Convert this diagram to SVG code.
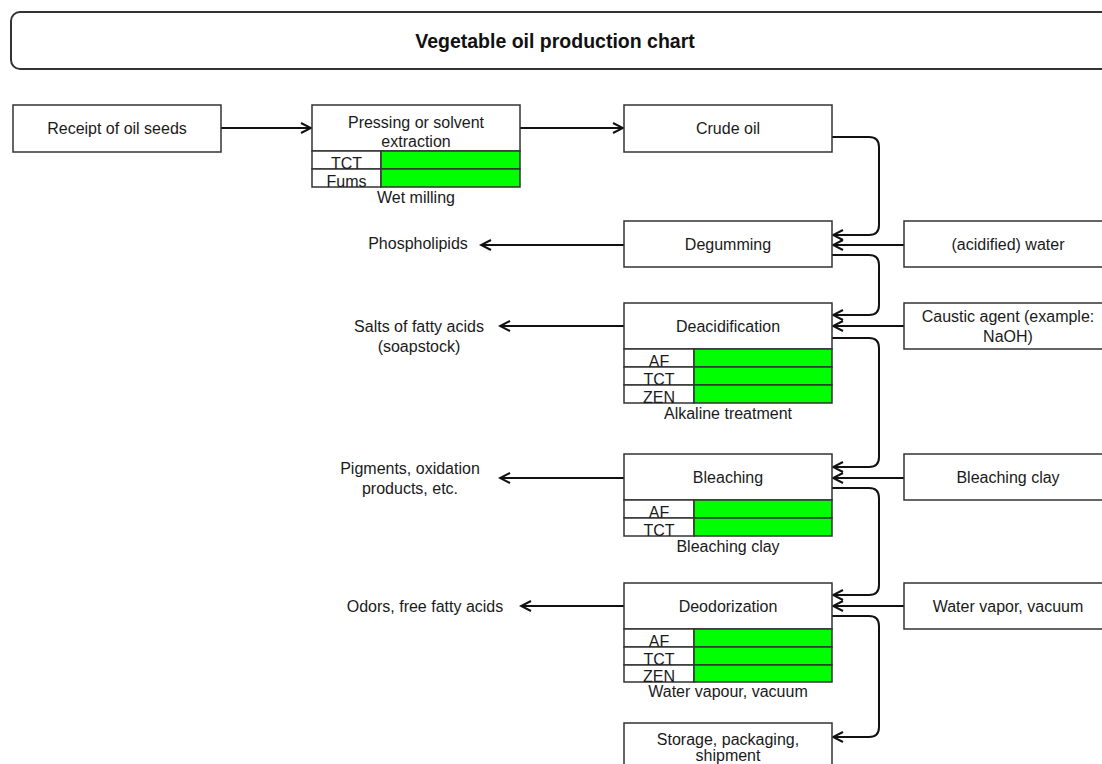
<svg xmlns="http://www.w3.org/2000/svg" width="1102" height="764" viewBox="0 0 1102 764">
  <defs>
    <marker id="arr" markerUnits="userSpaceOnUse" markerWidth="14" markerHeight="14" viewBox="0 0 14 14" refX="12" refY="7" orient="auto">
      <path d="M2,2 L12,7 L2,12" fill="none" stroke="#111" stroke-width="2" stroke-linejoin="miter"/>
    </marker>
    <style>
      .box { fill: #fff; stroke: #333; stroke-width: 1.5; }
      .green { fill: #00ff00; stroke: #333; stroke-width: 1.5; }
      .cell { fill: #fff; stroke: #333; stroke-width: 1.5; }
      .title { fill: #fff; stroke: #333; stroke-width: 2; }
      .t { font-family: "Liberation Sans", Arial, sans-serif; font-size: 16px; fill: #1a1a1a; text-anchor: middle; }
      .tb { font-family: "Liberation Sans", Arial, sans-serif; font-size: 19.5px; font-weight: bold; fill: #111; text-anchor: middle; }
      .edge { fill: none; stroke: #111; stroke-width: 2; marker-end: url(#arr); }
    </style>
  </defs>

  <!-- heading -->
  <g id="title">
    <rect class="title" x="11" y="12" width="1110" height="57" rx="9" ry="9"/>
    <text class="tb" x="555" y="48">Vegetable oil production chart</text>
  </g>

  <!-- process connectors -->
  <g id="connectors">
    <path class="edge" d="M221,128 H311"/>
    <path class="edge" d="M520,128 H623"/>
    <path class="edge" d="M832,137 H869 Q879,137 879,147 V225 Q879,235 869,235 H833"/>
    <path class="edge" d="M904,245 H833"/>
    <path class="edge" d="M624,245 H481"/>
    <path class="edge" d="M832,255 H869 Q879,255 879,265 V305 Q879,315 869,315 H833"/>
    <path class="edge" d="M904,326 H833"/>
    <path class="edge" d="M624,326 H500"/>
    <path class="edge" d="M832,338 H869 Q879,338 879,348 V457 Q879,467 869,467 H833"/>
    <path class="edge" d="M904,478 H833"/>
    <path class="edge" d="M624,478 H500"/>
    <path class="edge" d="M832,488 H869 Q879,488 879,498 V585 Q879,595 869,595 H833"/>
    <path class="edge" d="M904,606 H833"/>
    <path class="edge" d="M624,606 H521"/>
    <path class="edge" d="M832,616 H869 Q879,616 879,626 V727 Q879,737 869,737 H833"/>
  </g>

  <g id="receipt">
    <rect class="box" x="13" y="105" width="208" height="47"/>
    <text class="t" x="117" y="134">Receipt of oil seeds</text>
  </g>

  <g id="pressing">
    <rect class="box" x="312" y="105" width="208" height="46"/>
    <text class="t" x="416" y="127.5">Pressing or solvent</text>
    <text class="t" x="416" y="146.5">extraction</text>
    <rect class="cell" x="312" y="151" width="69" height="18"/>
    <rect class="green" x="381" y="151" width="139" height="18"/>
    <rect class="cell" x="312" y="169" width="69" height="18"/>
    <rect class="green" x="381" y="169" width="139" height="18"/>
    <text class="t" x="346.5" y="168.5">TCT</text>
    <text class="t" x="346.5" y="186.5">Fums</text>
    <text class="t" x="416" y="203">Wet milling</text>
  </g>

  <g id="crude-oil">
    <rect class="box" x="624" y="105" width="208" height="47"/>
    <text class="t" x="728" y="134">Crude oil</text>
  </g>

  <g id="degumming">
    <rect class="box" x="624" y="221" width="208" height="46"/>
    <text class="t" x="728" y="249.5">Degumming</text>
  </g>

  <g id="acidified-water">
    <rect class="box" x="904" y="221" width="208" height="46"/>
    <text class="t" x="1008" y="249.5">(acidified) water</text>
  </g>

  <g id="phospholipids">
    <text class="t" x="418" y="249">Phospholipids</text>
  </g>

  <g id="deacidification">
    <rect class="box" x="624" y="303" width="208" height="46"/>
    <text class="t" x="728" y="331.5">Deacidification</text>
    <rect class="cell" x="624" y="349" width="70" height="18"/>
    <rect class="green" x="694" y="349" width="138" height="18"/>
    <rect class="cell" x="624" y="367" width="70" height="18"/>
    <rect class="green" x="694" y="367" width="138" height="18"/>
    <rect class="cell" x="624" y="385" width="70" height="18"/>
    <rect class="green" x="694" y="385" width="138" height="18"/>
    <text class="t" x="659" y="366.5">AF</text>
    <text class="t" x="659" y="384.5">TCT</text>
    <text class="t" x="659" y="402.5">ZEN</text>
    <text class="t" x="728" y="419">Alkaline treatment</text>
  </g>

  <g id="caustic-agent">
    <rect class="box" x="904" y="303" width="208" height="46"/>
    <text class="t" x="1008" y="321.5">Caustic agent (example:</text>
    <text class="t" x="1008" y="341.5">NaOH)</text>
  </g>

  <g id="soapstock">
    <text class="t" x="419" y="331.5">Salts of fatty acids</text>
    <text class="t" x="419" y="351.5">(soapstock)</text>
  </g>

  <g id="bleaching">
    <rect class="box" x="624" y="454" width="208" height="46"/>
    <text class="t" x="728" y="482.5">Bleaching</text>
    <rect class="cell" x="624" y="500" width="70" height="18"/>
    <rect class="green" x="694" y="500" width="138" height="18"/>
    <rect class="cell" x="624" y="518" width="70" height="18"/>
    <rect class="green" x="694" y="518" width="138" height="18"/>
    <text class="t" x="659" y="517.5">AF</text>
    <text class="t" x="659" y="535.5">TCT</text>
    <text class="t" x="728" y="552">Bleaching clay</text>
  </g>

  <g id="bleaching-clay">
    <rect class="box" x="904" y="454" width="208" height="46"/>
    <text class="t" x="1008" y="482.5">Bleaching clay</text>
  </g>

  <g id="pigments">
    <text class="t" x="410" y="473.5">Pigments, oxidation</text>
    <text class="t" x="410" y="493.5">products, etc.</text>
  </g>

  <g id="deodorization">
    <rect class="box" x="624" y="583" width="208" height="46"/>
    <text class="t" x="728" y="611.5">Deodorization</text>
    <rect class="cell" x="624" y="629" width="70" height="18"/>
    <rect class="green" x="694" y="629" width="138" height="18"/>
    <rect class="cell" x="624" y="647" width="70" height="18"/>
    <rect class="green" x="694" y="647" width="138" height="18"/>
    <rect class="cell" x="624" y="665" width="70" height="17"/>
    <rect class="green" x="694" y="665" width="138" height="17"/>
    <text class="t" x="659" y="646.5">AF</text>
    <text class="t" x="659" y="664.5">TCT</text>
    <text class="t" x="659" y="681.5">ZEN</text>
    <text class="t" x="728" y="697">Water vapour, vacuum</text>
  </g>

  <g id="water-vapor">
    <rect class="box" x="904" y="583" width="208" height="46"/>
    <text class="t" x="1008" y="611.5">Water vapor, vacuum</text>
  </g>

  <g id="odors">
    <text class="t" x="425" y="611.5">Odors, free fatty acids</text>
  </g>

  <g id="storage">
    <rect class="box" x="624" y="723" width="208" height="60"/>
    <text class="t" x="728" y="745">Storage, packaging,</text>
    <text class="t" x="728" y="761">shipment</text>
  </g>
</svg>
